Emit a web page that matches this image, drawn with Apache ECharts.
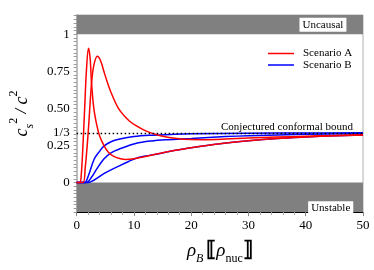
<!DOCTYPE html>
<html><head><meta charset="utf-8">
<script src="https://cdn.jsdelivr.net/npm/echarts@6/dist/echarts.min.js"></script>
<style>html,body{margin:0;padding:0;background:#fff}#c{width:374px;height:270px}</style>
</head><body><div id="c"></div>
<script>
// Data (x = rho_B in rho_nuc, y = cs^2/c^2)
const redSharp = [[0,0],[0.55,0],[0.8,0.05],[1.1,0.25],[1.4,0.5],[1.7,0.75],[2.07,0.906],[2.35,0.84],[2.6,0.67],[3.0,0.5],[3.5,0.39],[4.0,0.315],[4.75,0.25],[5.5,0.205],[6.4,0.178],[7.5,0.162],[8.6,0.155],[10,0.16],[12,0.175],[14,0.192],[17,0.215],[20,0.235],[25,0.262],[30,0.282],[35,0.297],[40,0.307],[45,0.315],[50,0.32]];
const redWide = [[0,0],[1.1,0],[1.5,0.1],[2.0,0.33],[2.6,0.67],[3.0,0.79],[3.6,0.851],[4.2,0.82],[4.75,0.75],[5.5,0.66],[6.3,0.58],[7.3,0.5],[8.3,0.45],[9.2,0.415],[10.3,0.385],[11.7,0.355],[13.1,0.333],[15,0.312],[17.5,0.297],[20,0.29],[22,0.289],[26,0.293],[30,0.3],[35,0.306],[40,0.312],[45,0.317],[50,0.322]];
const blueFast = [[0,0],[1.4,0],[2,0.04],[3.07,0.158],[4,0.21],[4.75,0.245],[6,0.275],[7.55,0.293],[10,0.31],[13.1,0.319],[17,0.325],[20,0.328],[30,0.332],[40,0.334],[50,0.335]];
const blueMid = [[0,0],[1.7,0],[2.5,0.03],[3.5,0.09],[4.75,0.158],[6,0.2],[7.55,0.227],[10.3,0.263],[13,0.28],[15.9,0.289],[20,0.297],[26,0.31],[30,0.316],[40,0.325],[50,0.33]];
const blueSlow = [[0,0],[2.0,0],[3,0.015],[4.75,0.059],[6,0.085],[7.55,0.114],[9,0.14],[10.3,0.162],[12,0.178],[14,0.192],[17,0.215],[20,0.235],[25,0.262],[30,0.282],[35,0.297],[40,0.307],[45,0.315],[50,0.32]];
const yTickValues = [0, 0.25, 1/3, 0.5, 0.75, 1];
const yTickLabels = ['0', '0.25', '1/3', '0.50', '0.75', '1'];
const xTickLabels = ['0','10','20','30','40','50'];
const conformalBound = 1/3;
const bandLabels = ['Uncausal', 'Unstable'];
const legendNames = ['Scenario A', 'Scenario B'];

const yMinorTicks = [];
for (let k = -8; k <= 45; k++) yMinorTicks.push(k * 0.025);

const serif = 'Liberation Serif';
const chart = echarts.init(document.getElementById('c'), null, {renderer: 'canvas'});
const lineSeries = (name, data, color, z) => ({
  name, type: 'line', data, smooth: 0.35, showSymbol: false, symbol: 'none', z,
  lineStyle: {color, width: 1.5}, itemStyle: {color}
});
chart.setOption({
  animation: false,
  textStyle: {fontFamily: serif},
  grid: {left: 64, right: 11, top: 15, bottom: 53, show: true, borderColor: '#b0b0b0', borderWidth: 1},
  legend: {
    orient: 'vertical', left: 268, top: 48, itemWidth: 26, itemHeight: 1.5, itemGap: 0.5, padding: 0,
    icon: 'rect',
    data: legendNames, textStyle: {fontFamily: serif, fontSize: 11, color: '#000', lineHeight: 10, padding: [0,0,0,4]}
  },
  xAxis: {
    type: 'value', min: 0, max: 50, interval: 10,
    axisLine: {show: true, onZero: false, lineStyle: {color: '#000', width: 1.2}},
    axisTick: {show: true, length: 4, lineStyle: {color: '#888'}},
    minorTick: {show: true, splitNumber: 5, length: 3, lineStyle: {color: '#aaa'}},
    splitLine: {show: false},
    axisLabel: {fontFamily: serif, fontSize: 13, color: '#000', margin: 7,
      formatter: (v) => xTickLabels[Math.round(v / 10)]},
    name: '{i|ρ}{sub|B} {br|⟦}{i|ρ}{subr|nuc}{br|⟧}',
    nameLocation: 'middle', nameGap: 23,
    nameTextStyle: {
      fontFamily: serif, color: '#000', lineHeight: 28,
      rich: {
        i: {fontFamily: serif, fontStyle: 'italic', fontSize: 19, color: '#000', verticalAlign: 'middle'},
        sub: {fontFamily: serif, fontStyle: 'italic', fontSize: 12, color: '#000', verticalAlign: 'bottom', lineHeight: 22},
        subr: {fontFamily: serif, fontSize: 12, color: '#000', verticalAlign: 'bottom', lineHeight: 22},
        br: {fontFamily: 'DejaVu Serif', fontSize: 21, fontWeight: 'bold', color: '#000', verticalAlign: 'middle'}
      }
    }
  },
  yAxis: {
    type: 'value', min: -0.2, max: 1.13,
    axisLine: {show: true, onZero: false, lineStyle: {color: '#bdbdbd', width: 2}},
    axisTick: {show: true, customValues: yMinorTicks, length: 3, lineStyle: {color: '#999'}},
    splitLine: {show: false},
    axisLabel: {fontFamily: serif, fontSize: 13, color: '#000', margin: 7,
      customValues: yTickValues,
      formatter: (v) => {
        let best = 0;
        yTickValues.forEach((t, i) => { if (Math.abs(t - v) < Math.abs(yTickValues[best] - v)) best = i; });
        return yTickLabels[best];
      }},
    name: '{i|c}{sub|s}{sup|2}{t| / }{i|c}{sup|2}',
    nameLocation: 'middle', nameRotate: 90, nameGap: 39,
    nameTextStyle: {
      fontFamily: serif, color: '#000', lineHeight: 28,
      rich: {
        i: {fontFamily: serif, fontStyle: 'italic', fontSize: 18, color: '#000', verticalAlign: 'middle'},
        t: {fontFamily: serif, fontStyle: 'italic', fontSize: 17, color: '#000', verticalAlign: 'middle'},
        sub: {fontFamily: serif, fontStyle: 'italic', fontSize: 12, color: '#000', verticalAlign: 'bottom', lineHeight: 24},
        sup: {fontFamily: serif, fontSize: 12, color: '#000', verticalAlign: 'top', lineHeight: 24}
      }
    }
  },
  series: [
    {
      name: 'bands', type: 'line', data: [], z: 1,
      markArea: {
        silent: true, itemStyle: {color: '#808080'},
        label: {show: true, backgroundColor: '#fff', align: 'right', verticalAlign: 'middle',
          padding: [2, 3, 1, 3], color: '#000', fontFamily: serif, fontSize: 11},
        data: [
          [{yAxis: 1.13, name: bandLabels[0], label: {position: ['94.2%', '50%']}}, {yAxis: 1}],
          [{yAxis: 0, name: bandLabels[1], label: {position: ['96.6%', '87%']}}, {yAxis: -0.2}]
        ]
      },
      markLine: {
        silent: true, symbol: 'none',
        lineStyle: {color: '#000', type: [1.5, 2.5], width: 1.3},
        label: {show: true, position: 'insideEndTop', distance: [10, 1], color: '#000', fontFamily: serif, fontSize: 11,
          formatter: 'Conjectured conformal bound'},
        data: [{yAxis: conformalBound}]
      }
    },
    lineSeries(legendNames[1], blueFast, '#0000ff', 3),
    lineSeries(legendNames[1], blueMid, '#0000ff', 3),
    lineSeries(legendNames[1], blueSlow, '#0000ff', 3),
    lineSeries(legendNames[0], redSharp, '#ff0000', 4),
    lineSeries(legendNames[0], redWide, '#ff0000', 4)
  ]
});
</script></body></html>
